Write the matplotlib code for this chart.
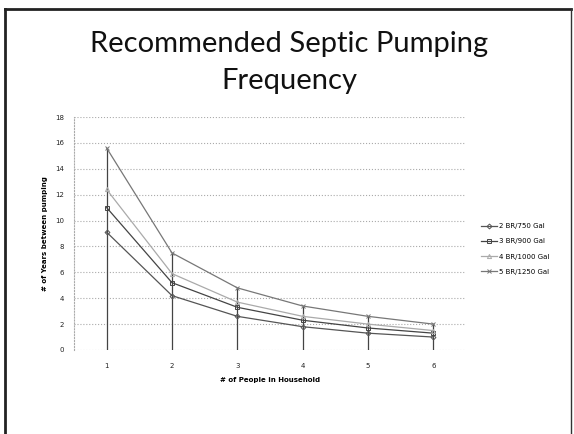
import matplotlib
matplotlib.use("Agg")
import matplotlib.pyplot as plt

people = [1, 2, 3, 4, 5, 6]
series_names = ["2 BR/750 Gal", "3 BR/900 Gal", "4 BR/1000 Gal", "5 BR/1250 Gal"]
br2_750 = [9.1, 4.2, 2.6, 1.8, 1.3, 1.0]
br3_900 = [11.0, 5.2, 3.3, 2.3, 1.7, 1.3]
br4_1000 = [12.4, 5.9, 3.7, 2.6, 2.0, 1.5]
br5_1250 = [15.6, 7.5, 4.8, 3.4, 2.6, 2.0]
y_ticks = [0, 2, 4, 6, 8, 10, 12, 14, 16, 18]

W, H = 574, 434
fig = plt.figure(figsize=(W / 100, H / 100), dpi=100)
fig.patch.set_facecolor("white")

# slide border
border = fig.add_axes([0, 0, 1, 1])
border.set_xlim(0, W)
border.set_ylim(H, 0)
border.axis("off")
border.plot([5, 5], [9, H], color="#222222", lw=2)
border.plot([5, 571], [9, 9], color="#222222", lw=2)
border.plot([571, 571], [9, H], color="#333333", lw=1)

title_font = ["Lato", "DejaVu Sans"]
fig.text(289 / W, 1 - 44 / H, "Recommended Septic Pumping", ha="center", va="center",
         fontsize=21, family=title_font, color="#111111")
fig.text(289 / W, 1 - 81 / H, "Frequency", ha="center", va="center",
         fontsize=21, family=title_font, color="#111111")

left, right, top, bottom = 74, 466, 117, 350
ax = fig.add_axes([left / W, 1 - bottom / H, (right - left) / W, (bottom - top) / H])
ax.set_xlim(0.5, 6.5)
ax.set_ylim(0, 18)
ax.set_yticks(y_ticks)
ax.set_xticks(people)
ax.tick_params(axis="y", length=0, labelsize=5, colors="#222222", pad=7)
ax.tick_params(axis="x", length=0, labelsize=5, colors="#222222", pad=9)
for s in ["top", "right", "bottom"]:
    ax.spines[s].set_visible(False)
ax.spines["left"].set_linestyle(":")
ax.spines["left"].set_color("#aaaaaa")
ax.spines["left"].set_linewidth(0.8)
ax.yaxis.grid(True, linestyle=":", color="#aaaaaa", linewidth=0.8)
ax.set_axisbelow(True)

all_series = [br2_750, br3_900, br4_1000, br5_1250]
tops = [max(v) for v in zip(*all_series)]
ax.vlines(people, 0, tops, colors="#444444", linewidth=0.9, zorder=1)

styles = [
    dict(color="#555555", marker="D", ms=2.5),
    dict(color="#444444", marker="s", ms=3),
    dict(color="#aaaaaa", marker="^", ms=3),
    dict(color="#777777", marker="x", ms=3),
]
for vals, name, st in zip(all_series, series_names, styles):
    ax.plot(people, vals, label=name, linewidth=0.9, markerfacecolor="none",
            markeredgewidth=0.7, zorder=3, **st)

ax.set_xlabel("# of People in Household", fontsize=5, fontweight="bold", labelpad=6)
ax.set_ylabel("# of Years between pumping", fontsize=5, fontweight="bold", labelpad=5)

leg = ax.legend(loc="center left", bbox_to_anchor=(478 / W, 1 - 249 / H),
                bbox_transform=fig.transFigure, frameon=False, fontsize=5,
                handlelength=2.2, handletextpad=0.3, labelspacing=1.3, borderpad=0)

fig.savefig("out.png", dpi=100, facecolor="white")
